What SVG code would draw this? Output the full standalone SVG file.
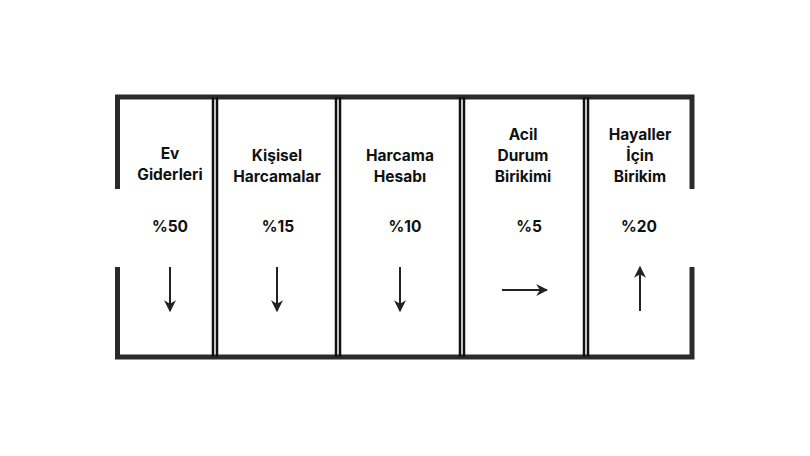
<svg xmlns="http://www.w3.org/2000/svg" width="810" height="456" viewBox="0 0 810 456">
<defs>
<style>
.wall{stroke:#2b2b2b;stroke-width:5;fill:none;stroke-linecap:butt}
.div{stroke:#111;stroke-width:2.5;fill:none}
.t{font-family:Inter,"Liberation Sans",sans-serif;font-weight:700;font-size:15.5px;fill:#111;text-anchor:middle}
.arr{stroke:#222;stroke-width:2;fill:none;marker-end:url(#ah)}
</style>
<marker id="ah" viewBox="0 0 10 10" refX="9" refY="5" markerWidth="6" markerHeight="6" orient="auto" markerUnits="strokeWidth">
<path d="M0,0 L10,5 L0,10 L3,5 Z" fill="#222"/>
</marker>
</defs>
<g id="frame">
<path class="wall" d="M117.5,189 V97 H692 V189"/>
<path class="wall" d="M117.5,267 V357 H692 V267"/>
</g>
<g id="dividers">
<path class="div" d="M213,97 V357 M217,97 V357"/>
<path class="div" d="M336,97 V357 M340,97 V357"/>
<path class="div" d="M460,97 V357 M464,97 V357"/>
<path class="div" d="M584,97 V357 M588,97 V357"/>
</g>
<g id="node1">
<text class="t" x="170" y="159">Ev</text>
<text class="t" x="170" y="180">Giderleri</text>
<text class="t" x="170" y="232">%50</text>
</g>
<g id="node2">
<text class="t" x="277" y="161">Kişisel</text>
<text class="t" x="277" y="182">Harcamalar</text>
<text class="t" x="278" y="232">%15</text>
</g>
<g id="node3">
<text class="t" x="400" y="161">Harcama</text>
<text class="t" x="400" y="182">Hesabı</text>
<text class="t" x="405" y="232">%10</text>
</g>
<g id="node4">
<text class="t" x="523" y="140">Acil</text>
<text class="t" x="523" y="161">Durum</text>
<text class="t" x="523" y="182">Birikimi</text>
<text class="t" x="529" y="232">%5</text>
</g>
<g id="node5">
<text class="t" x="640" y="140">Hayaller</text>
<text class="t" x="640" y="161">İçin</text>
<text class="t" x="640" y="182">Birikim</text>
<text class="t" x="639" y="232">%20</text>
</g>
<g id="connectors">
<path class="arr" d="M170,267 V311"/>
<path class="arr" d="M277,267 V311"/>
<path class="arr" d="M400,267 V311"/>
<path class="arr" d="M502,290 H547"/>
<path class="arr" d="M640,311 V267"/>
</g>
</svg>
